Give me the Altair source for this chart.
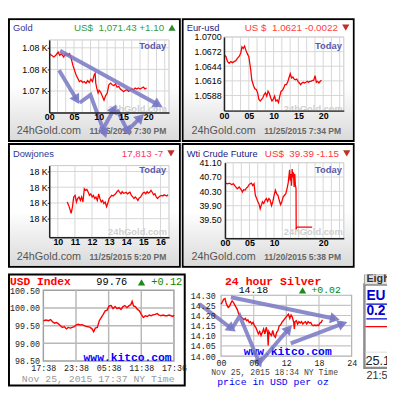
import altair as alt
import pandas as pd

SANS = "Liberation Sans"
MONO = "Liberation Mono"
ARROW = "#7878c4"

# ---------------- data (hour, value) ----------------
gold = [(0.00,1076.82),(0.46,1076.63),(0.93,1076.44),(1.32,1076.63),(1.79,1077.01),(2.12,1076.63),
        (2.45,1076.82),(2.91,1076.44),(3.31,1076.82),(3.77,1076.63),(4.11,1076.82),(4.44,1076.25),
        (4.77,1075.49),(5.10,1074.92),(5.43,1074.36),(5.76,1073.98),(6.09,1073.60),(6.42,1073.71),
        (6.75,1073.48),(7.09,1073.60),(7.42,1073.41),(7.75,1073.71),(8.08,1073.48),(8.41,1073.86),
        (8.74,1073.60),(9.07,1074.36),(9.27,1074.55),(9.40,1073.41),(9.60,1072.84),(9.87,1072.27),
        (10.07,1072.58),(10.40,1072.35),(10.73,1071.89),(11.06,1071.44),(11.39,1071.97),(11.72,1072.27),
        (12.05,1073.22),(12.38,1073.41),(12.72,1073.22),(13.05,1073.11),(13.38,1073.33),(13.71,1072.95),
        (14.04,1073.03),(14.37,1072.73),(14.70,1072.58),(15.03,1072.42),(15.36,1072.58),(15.70,1072.65),
        (16.03,1072.46),(16.36,1072.58),(16.69,1072.73),(17.02,1072.65),(17.35,1072.84),(17.68,1072.73),
        (18.01,1072.84),(18.34,1072.73),(18.68,1072.84),(19.01,1072.95),(19.34,1072.73),(19.67,1072.84)]

eur = [(0.07,1.06654),(0.39,1.06623),(0.72,1.06528),(1.05,1.06497),(1.38,1.06528),(1.71,1.06509),
       (2.04,1.06528),(2.37,1.06547),(2.70,1.06591),(3.03,1.06623),(3.36,1.06686),(3.62,1.06811),
       (3.88,1.06780),(4.14,1.06824),(4.41,1.06748),(4.67,1.06686),(5.00,1.06623),(5.20,1.06497),
       (5.39,1.06371),(5.59,1.06182),(5.79,1.06119),(5.99,1.06056),(6.25,1.06006),(6.51,1.05994),
       (6.78,1.05931),(7.04,1.05805),(7.30,1.05773),(7.57,1.05805),(7.83,1.05836),(8.09,1.05899),
       (8.36,1.05931),(8.62,1.05868),(8.88,1.05962),(9.14,1.05918),(9.41,1.05836),(9.67,1.05773),
       (9.93,1.05805),(10.20,1.05868),(10.46,1.05773),(10.72,1.05792),(10.99,1.05742),(11.25,1.05868),
       (11.51,1.05962),(11.78,1.05981),(12.04,1.06025),(12.30,1.06088),(12.57,1.06088),(12.83,1.06132),
       (13.09,1.06214),(13.36,1.06296),(13.62,1.06214),(13.88,1.06233),(14.14,1.06195),(14.41,1.06182),
       (14.67,1.06195),(14.93,1.06151),(15.20,1.06119),(15.46,1.06088),(15.72,1.06119),(15.99,1.06132),
       (16.25,1.06119),(16.51,1.06132),(16.78,1.06151),(17.04,1.06132),(17.30,1.06151),(17.57,1.06151),
       (17.83,1.06170),(18.09,1.06170),(18.36,1.06258),(18.62,1.06132),(18.88,1.06151),(19.14,1.06119),
       (19.41,1.06151),(19.67,1.06170)]

dow = [(10.55,17803),(10.63,17793),(10.70,17782),(10.78,17767),(10.86,17788),(10.93,17819),(11.01,17824),
       (11.09,17803),(11.16,17814),(11.24,17819),(11.32,17808),(11.39,17819),(11.47,17803),(11.55,17845),
       (11.62,17840),(11.70,17843),(11.78,17834),(11.85,17824),(11.93,17829),(12.01,17819),(12.08,17824),
       (12.16,17814),(12.23,17819),(12.31,17808),(12.39,17829),(12.46,17814),(12.54,17803),(12.62,17808),
       (12.69,17798),(12.77,17803),(12.85,17788),(12.92,17798),(13.00,17814),(13.08,17819),(13.15,17824),
       (13.23,17822),(13.31,17826),(13.38,17829),(13.46,17836),(13.54,17840),(13.61,17834),(13.69,17829),
       (13.76,17836),(13.84,17831),(13.92,17832),(13.99,17834),(14.07,17829),(14.15,17832),(14.22,17834),
       (14.30,17824),(14.38,17819),(14.45,17814),(14.53,17819),(14.61,17814),(14.68,17808),(14.76,17816),
       (14.84,17819),(14.91,17826),(14.99,17832),(15.07,17834),(15.14,17829),(15.22,17836),(15.29,17831),
       (15.37,17834),(15.45,17840),(15.52,17834),(15.60,17826),(15.68,17829),(15.75,17819),(15.83,17814),
       (15.91,17819),(15.98,17822),(16.06,17824),(16.14,17822),(16.21,17826),(16.29,17824),(16.37,17822),
       (16.44,17826)]

wti = [(0.13,40.53),(0.53,40.51),(0.92,40.53),(1.32,40.49),(1.71,40.51),(2.11,40.44),(2.50,40.37),
       (2.89,40.42),(3.29,40.35),(3.55,40.28),(3.82,40.35),(4.08,40.33),(4.34,40.39),(4.61,40.42),
       (4.87,40.48),(5.13,40.51),(5.39,40.53),(5.66,40.46),(5.92,40.51),(6.18,40.19),(6.45,40.10),
       (6.71,40.01),(6.97,39.93),(7.17,39.81),(7.37,39.90),(7.63,40.01),(7.89,39.96),(8.16,40.05),
       (8.42,40.10),(8.68,40.02),(8.95,40.10),(9.21,40.05),(9.47,39.90),(9.74,40.01),(10.00,40.19),
       (10.26,40.33),(10.53,40.23),(10.79,40.19),(11.05,40.05),(11.32,39.93),(11.58,40.01),(11.84,40.14),
       (12.11,40.19),(12.37,40.23),(12.63,40.37),(12.89,40.55),(13.16,40.90),(13.29,40.60),(13.42,40.78),
       (13.55,40.46),(13.68,40.92),(13.82,40.69),(13.95,40.83),(14.08,40.42),(14.21,40.78),(14.34,40.48),
       (14.47,40.37),(14.50,39.24),(14.60,39.30),(17.76,39.30)]

usd = [(0.00,99.64),(0.48,99.66),(0.97,99.64),(1.33,99.67),(1.69,99.61),(2.06,99.57),(2.42,99.59),
       (2.78,99.55),(3.14,99.50),(3.51,99.45),(3.87,99.47),(4.23,99.41),(4.59,99.45),(4.96,99.43),
       (5.32,99.45),(5.68,99.47),(6.05,99.52),(6.41,99.54),(6.77,99.52),(7.13,99.53),(7.50,99.50),
       (7.86,99.48),(8.22,99.47),(8.59,99.45),(8.95,99.41),(9.25,99.33),(9.55,99.43),(9.92,99.45),
       (10.28,99.64),(10.64,99.73),(11.00,99.82),(11.37,99.92),(11.73,99.94),(12.09,100.06),(12.45,100.07),
       (12.82,99.98),(13.18,100.04),(13.54,99.98),(13.91,100.01),(14.27,99.96),(14.63,100.04),(14.99,100.07),
       (15.36,100.01),(15.72,100.06),(16.08,100.10),(16.32,100.19),(16.57,100.06),(16.93,100.04),
       (17.29,99.96),(17.65,99.92),(18.02,99.82),(18.38,99.73),(18.74,99.78),(19.11,99.76),(19.47,99.80),
       (19.83,99.78),(20.19,99.81),(20.56,99.82),(20.92,99.84),(21.28,99.80),(21.64,99.78),(22.01,99.80),
       (22.37,99.78),(22.73,99.78),(23.10,99.80),(23.46,99.78),(23.82,99.76),(24.00,99.80)]

silver = [(0.00,14.256),(0.24,14.267),(0.48,14.280),(0.72,14.284),(0.90,14.264),(1.08,14.251),(1.32,14.240),
          (1.56,14.245),(1.80,14.261),(2.04,14.272),(2.29,14.264),(2.53,14.251),(2.77,14.240),(3.01,14.228),
          (3.25,14.207),(3.49,14.199),(3.73,14.191),(3.97,14.186),(4.21,14.179),(4.45,14.186),(4.69,14.174),
          (4.93,14.179),(5.17,14.166),(5.41,14.170),(5.65,14.158),(5.89,14.166),(6.13,14.150),(6.37,14.142),
          (6.61,14.126),(6.86,14.109),(7.10,14.121),(7.34,14.101),(7.58,14.117),(7.82,14.134),(8.06,14.109),
          (8.30,14.142),(8.54,14.117),(8.66,14.052),(8.78,14.121),(9.02,14.109),(9.26,14.101),(9.50,14.126),
          (9.74,14.101),(9.98,14.093),(10.22,14.117),(10.46,14.126),(10.70,14.150),(10.94,14.153),
          (11.18,14.166),(11.43,14.174),(11.67,14.183),(11.91,14.191),(12.15,14.199),(12.39,14.207),
          (12.63,14.186),(12.87,14.202),(13.11,14.191),(13.35,14.166),(13.47,14.134),(13.59,14.170),
          (13.83,14.174),(14.07,14.158),(14.31,14.170),(14.55,14.163),(14.79,14.170),(15.03,14.158),
          (15.27,14.166),(15.51,14.170),(15.75,14.158),(15.99,14.170),(16.24,14.163),(16.48,14.166),
          (16.72,14.153),(16.96,14.150),(17.20,14.153),(17.44,14.150),(17.68,14.153),(17.92,14.150),
          (18.16,14.163),(18.40,14.166),(18.64,14.179)]

# hand-drawn annotation arrows: (id, points in data units, head angle in degrees)
gold_arrows = [("a1", [(2.18,1077.16),(22.02,1070.91)], 119),
               ("a2", [(1.98,1074.89),(5.56,1071.48)], 149),
               ("a3", [(6.15,1071.14),(8.33,1072.05),(11.2,1067.6)], 162),
               ("a4", [(10.52,1067.73),(13.10,1070.45)], 28),
               ("a5", [(13.69,1070.34),(15.87,1067.84)], 153),
               ("a6", [(15.48,1067.73),(18.45,1069.43)], 45)]
silver_arrows = [("s1", [(1.80,14.290),(20.93,14.184)], 102),
                 ("s2", [(-3.97,14.256),(1.98,14.135)], 127),
                 ("s3", [(1.98,14.135),(3.43,14.198),(7.04,13.966)], 157),
                 ("s4", [(7.04,13.966),(12.45,14.135)], 41),
                 ("s5", [(12.81,14.063),(22.37,14.160)], 69)]

ONE = pd.DataFrame({"k": [0]})
GRAD = alt.LinearGradient(gradient="linear",
                          stops=[alt.GradientStop(color="#ffffff", offset=0),
                                 alt.GradientStop(color="#ffffff", offset=0.55),
                                 alt.GradientStop(color="#dadada", offset=1)],
                          x1=0, x2=0, y1=0, y2=1)


def series_df(pairs):
    return pd.DataFrame({"i": list(range(len(pairs))),
                         "h": [p[0] for p in pairs], "v": [p[1] for p in pairs]})


def arrow_dfs(arrows):
    rows, heads = [], []
    for aid, pts, ang in arrows:
        for j, (h, v) in enumerate(pts):
            rows.append({"id": aid, "i": j, "h": h, "v": v})
        heads.append({"id": aid, "h": pts[-1][0], "v": pts[-1][1], "ang": ang})
    return pd.DataFrame(rows), pd.DataFrame(heads)


def text(t, x, y, size, color, weight="normal", align="left", font=SANS, clip=False):
    return alt.Chart(ONE).mark_text(text=t, fontSize=size, color=color, fontWeight=weight,
                                    align=align, baseline="middle", font=font, clip=clip).encode(
        x=alt.value(x), y=alt.value(y))


def tri(shape, x, y, color, size=55):
    return alt.Chart(ONE).mark_point(shape=shape, filled=True, size=size, color=color,
                                     opacity=1).encode(x=alt.value(x), y=alt.value(y))


def hrule(x1, x2, y, color, w=1.0):
    return alt.Chart(ONE).mark_rule(color=color, strokeWidth=w, clip=True).encode(
        x=alt.value(x1), x2=alt.value(x2), y=alt.value(y))


def axis(orient_x, values, offset, font, size, pad, weight="normal", domain=True, ticks=False,
         label_expr=None, fmt=None, color="#000000"):
    kw = dict(values=values, title=None, grid=False, ticks=ticks, domain=domain, offset=offset,
              labelFont=font, labelFontSize=size, labelFontWeight=weight, labelColor=color,
              labelPadding=pad, labelOverlap=False, zindex=1)
    if orient_x:
        kw["labelFlush"] = False
    if ticks:
        kw.update(tickSize=2, tickColor="#222222")
    if domain:
        kw.update(domainColor="#222222", domainWidth=1.5)
    if label_expr:
        kw["labelExpr"] = label_expr
    if fmt:
        kw["format"] = fmt
    return alt.Axis(**kw)


def panel(W, H, xdom, xrng, ydom, yrng, pairs, xaxis, yaxis, xgrid, ygrid, grid_color, grid_w,
          plot_stroke, plot_sw, line_w, under, over, gradient, arrows=None, border=True):
    xs = alt.Scale(domain=xdom, range=xrng, nice=False, zero=False)
    ys = alt.Scale(domain=ydom, range=yrng, nice=False, zero=False)

    # every data layer carries the same scale and axis definition (shared, merged)
    def X():
        return alt.X("h:Q", scale=xs, axis=xaxis)

    def Y():
        return alt.Y("v:Q", scale=ys, axis=yaxis)

    layers = []
    if gradient:
        layers.append(alt.Chart(ONE).mark_rect(fill=GRAD).encode(
            x=alt.value(1), x2=alt.value(W - 1), y=alt.value(1), y2=alt.value(H - 1)))
    plot = pd.DataFrame({"h": [xdom[0]], "h2": [xdom[1]], "v": [ydom[0]], "v2": [ydom[1]]})
    layers.append(alt.Chart(plot).mark_rect(fill="white", stroke=plot_stroke, strokeWidth=plot_sw).encode(
        x=X(), x2=alt.X2("h2"), y=Y(), y2=alt.Y2("v2")))
    vg = pd.DataFrame({"h": xgrid, "v": [ydom[0]] * len(xgrid), "v2": [ydom[1]] * len(xgrid)})
    layers.append(alt.Chart(vg).mark_rule(color=grid_color, strokeWidth=grid_w).encode(
        x=X(), y=Y(), y2=alt.Y2("v2")))
    hg = pd.DataFrame({"v": ygrid, "h": [xdom[0]] * len(ygrid), "h2": [xdom[1]] * len(ygrid)})
    layers.append(alt.Chart(hg).mark_rule(color=grid_color, strokeWidth=grid_w).encode(
        y=Y(), x=X(), x2=alt.X2("h2")))
    layers += under
    layers.append(alt.Chart(series_df(pairs)).mark_line(color="#ff0000", strokeWidth=line_w).encode(
        x=X(), y=Y(), order="i:Q"))
    layers += over
    if arrows:
        lines, heads = arrow_dfs(arrows)
        layers.append(alt.Chart(lines).mark_line(color=ARROW, strokeWidth=4, opacity=0.85).encode(
            x=X(), y=Y(), detail="id:N", order="i:Q"))
        layers.append(alt.Chart(heads).mark_point(shape="triangle-up", filled=True, size=130,
                                                  color=ARROW, opacity=0.9).encode(
            x=X(), y=Y(), angle=alt.Angle("ang:Q", scale=None)))
    if border:
        view = alt.ViewBackground(stroke="#000000", strokeWidth=2)
    else:
        view = alt.ViewBackground(stroke="#ffffff", strokeWidth=0)
    return alt.layer(*layers).properties(width=W, height=H, view=view)


PAD2 = "datum.value < 10 ? '0' + datum.value : '' + datum.value"
third = [1.667, 3.333, 5, 6.667, 8.333, 10, 11.667, 13.333, 15, 16.667, 18.333, 20, 21.667, 23.333]
GRIDC = "#d6d6d6"


def gold_texts(title, tcol, price, pcol, tri_shape, tri_x, tri_col, date, dx, ty, fy, tx, wx, wy, fx):
    over = [text(title, 4, ty, 9.5, tcol),
            text(price, tri_x - 8, ty, 10, pcol, align="right"),
            tri(tri_shape, tri_x, ty - 0.5, tri_col),
            text("Today", tx, 27, 9.5, "#5a5aa8", "bold", "right"),
            text("24hGold.com", fx, fy, 11, "#555555"),
            text(date, dx, fy, 8.7, "#666666", "bold")]
    under = [text("24hGold.com", wx, wy, 9.5, "#cfcfcf", "bold", "right")]
    return under, over


# ---- Gold ----
u, o = gold_texts("Gold", "#333399", "US$\u00a0\u00a01,071.43 +1.10", "#3a9a3a", "triangle-up", 166,
                  "#2e8b2e", "11/25/2015 7:30 PM", 82, 9, 114, 160, 161, 91, 8)
gold_p = panel(174, 124, [0, 24.2], [41, 163], [1070.0, 1078.41], [95, 21], gold,
               axis(True, [0, 5, 10, 15, 20], -29, SANS, 9, 0, "bold", label_expr=PAD2),
               axis(False, [1072.5, 1075, 1077.5], -41, SANS, 9, 0, ticks=True,
                    label_expr="datum.value < 1073 ? '1.07 K' : '1.08 K'"),
               third, [1072.5, 1075, 1077.5], GRIDC, 1, "#c8c8c8", 1, 1.3, u, o, True,
               arrows=gold_arrows)

# ---- Eur-usd ----
u, o = gold_texts("Eur-usd", "#1a1a80", "US $\u00a0\u00a01.0621 -0.0022", "#ff4040", "triangle-down", 166,
                  "#c0302a", "11/25/2015 7:34 PM", 83, 9, 114, 162, 163, 91, 9)
eur_p = panel(174, 124, [0, 24.16], [42, 164], [1.0559, 1.0700], [93, 18], eur,
              axis(True, [0, 5, 10, 15, 20], -31, SANS, 9, 1.5, "bold", label_expr=PAD2),
              axis(False, [1.0588, 1.0616, 1.0644, 1.0672, 1.07], -42, SANS, 9, 3, fmt=".4f"),
              third, [1.0588, 1.0616, 1.0644, 1.0672, 1.07], GRIDC, 1, "#c8c8c8", 1, 1.3, u, o, True)

# ---- Dowjones ----
u, o = gold_texts("Dowjones", "#2a3a9a", "17,813 -7", "#ff3366", "triangle-down", 165,
                  "#c0302a", "11/25/2015 5:20 PM", 82, 10, 115, 160, 161, 90, 8)
dow_p = panel(174, 125, [9.5, 16.5], [41, 163], [17690.6, 17918.75], [95, 22], dow,
              axis(True, [10, 11, 12, 13, 14, 15, 16], -30, SANS, 9, 0, "bold", fmt="d"),
              axis(False, [17750, 17800, 17850, 17900], -41, SANS, 9, 0, ticks=True,
                   label_expr="'18 K'"),
              [10, 11, 12, 13, 14, 15, 16], [17750, 17800, 17850, 17900], GRIDC, 1, "#c8c8c8", 1, 1.3,
              u, o, True)

# ---- Wti ----
u, o = gold_texts("Wti Crude Future", "#1a1a80", "US$\u00a0\u00a039.39 -1.15", "#ff3344", "triangle-down", 167,
                  "#c0302a", "11/20/2015 5:38 PM", 83, 10, 115, 162, 163, 90, 9)
wti_p = panel(174, 125, [0, 24.2], [43, 164], [38.99, 41.10], [96, 19], wti,
              axis(True, [0, 5, 10, 20], -29, SANS, 9, 0, "bold", label_expr=PAD2),
              axis(False, [39.5, 39.9, 40.3, 40.7, 41.1], -43, SANS, 9, 4, fmt=".2f"),
              third, [39.5, 39.9, 40.3, 40.7, 41.1], GRIDC, 1, "#c8c8c8", 1, 1.3, u, o, True)

# ---- USD Index (kitco) ----
usd_over = [text("USD Index", 1, 8, 11.5, "#ff0000", "bold", font=MONO),
            text("99.76", 89, 8, 10.5, "#000000", font=MONO),
            tri("triangle-up", 135, 8, "#1a8a1a"),
            text("+0.12", 145, 8, 10.5, "#008800", font=MONO),
            text("www.kitco.com", 76, 85, 11.5, "#0000ff", "bold", font=MONO),
            text("Nov 25, 2015 17:37 NY Time", 13, 106, 10, "#999999", font=MONO)]
usd_p = panel(179, 113, [0, 24], [35, 168], [98.5, 100.5], [88, 16], usd,
              axis(True, [0, 6, 12, 18, 24], -25, MONO, 8.5, 3, domain=False, color="#222222",
                   label_expr="datum.value == 0 ? '17:38' : datum.value == 6 ? '23:38' : "
                              "datum.value == 12 ? '05:38' : datum.value == 18 ? '11:38' : '17:36'"),
              axis(False, [98.5, 99, 99.5, 100, 100.5], -35, MONO, 8.5, 4, domain=False,
                   color="#222222", fmt=".2f"),
              [6, 12, 18], [99, 99.5, 100], "#b8b8b8", 1.5, "#a0a0a0", 1.5, 1.4, [], usd_over, False)

# ---- 24 hour Silver (kitco) ----
silver_over = [text("24 hour Silver", 38, 7, 11.7, "#ff0000", "bold", font=MONO),
               text("14.18", 52, 16, 10, "#000000", font=MONO),
               tri("triangle-up", 117, 16, "#1a8a1a"),
               text("+0.02", 126, 16, 10, "#008800", font=MONO),
               text("www.kitco.com", 57, 79, 11.5, "#0000ff", "bold", font=MONO),
               text("Nov 25, 2015 18:34 NY Time", 24, 100, 8.3, "#444444", font=MONO),
               text("price in USD per oz", 30, 109, 10, "#0000ee", font=MONO)]
silver_p = panel(169, 113, [0, 24], [34, 167], [14.0, 14.3], [83, 21], silver,
                 axis(True, [0, 6, 12, 18, 24], -30, MONO, 8.5, 3, domain=False, color="#222222",
                      label_expr=PAD2),
                 axis(False, [14.0, 14.05, 14.1, 14.15, 14.2, 14.25, 14.3], -34, MONO, 8.5, 6,
                      domain=False, color="#222222", fmt=".2f"),
                 [6, 12, 18], [14.05, 14.1, 14.15, 14.2, 14.25], "#c4c4c4", 1.2, "#b0b0b0", 1.2, 1.4,
                 [], silver_over, False, arrows=silver_arrows, border=False)

# ---- partial widget at the right edge ----
side_layers = [
    alt.Chart(ONE).mark_rect(fill="white", stroke="#8c8c8c", strokeWidth=2.5, clip=True).encode(
        x=alt.value(8), x2=alt.value(60), y=alt.value(10), y2=alt.value(95)),
    alt.Chart(ONE).mark_rect(fill="#e4e4e4", stroke="#9a9a9a", strokeWidth=1, clip=True).encode(
        x=alt.value(8), x2=alt.value(60), y=alt.value(0), y2=alt.value(10)),
    text("Eight", 10, 5, 11, "#333333", "bold", clip=True),
    text("EU", 10, 22, 14, "#0000cc", "bold", clip=True),
    hrule(10, 60, 30, "#0000cc", 1.2),
    text("0.2", 10, 37, 14, "#0000cc", "bold", clip=True),
    hrule(10, 60, 45, "#0000cc", 1.2),
    hrule(9, 60, 53, "#ff0000", 1.2),
    hrule(9, 60, 79, "#dddddd", 1),
    text("25.1", 9, 88, 13, "#222222", clip=True),
    text("21:57", 10, 103, 11, "#333333", clip=True),
]
side_p = alt.layer(*side_layers).properties(width=31, height=113,
                                            view=alt.ViewBackground(stroke="#ffffff", strokeWidth=0))

row1 = alt.hconcat(gold_p, eur_p, spacing=3, bounds="flush")
row2 = alt.hconcat(dow_p, wti_p, spacing=3, bounds="flush")
row3 = alt.hconcat(usd_p, silver_p, side_p, spacing=3, bounds="flush")
top = alt.vconcat(row1, row2, spacing=0)
chart = alt.vconcat(top, row3, spacing=6).properties(
    padding={"left": 0, "top": 7, "right": 0, "bottom": 0}, background="white")

chart.save("out.html", embed_options={"renderer": "svg", "actions": False})
